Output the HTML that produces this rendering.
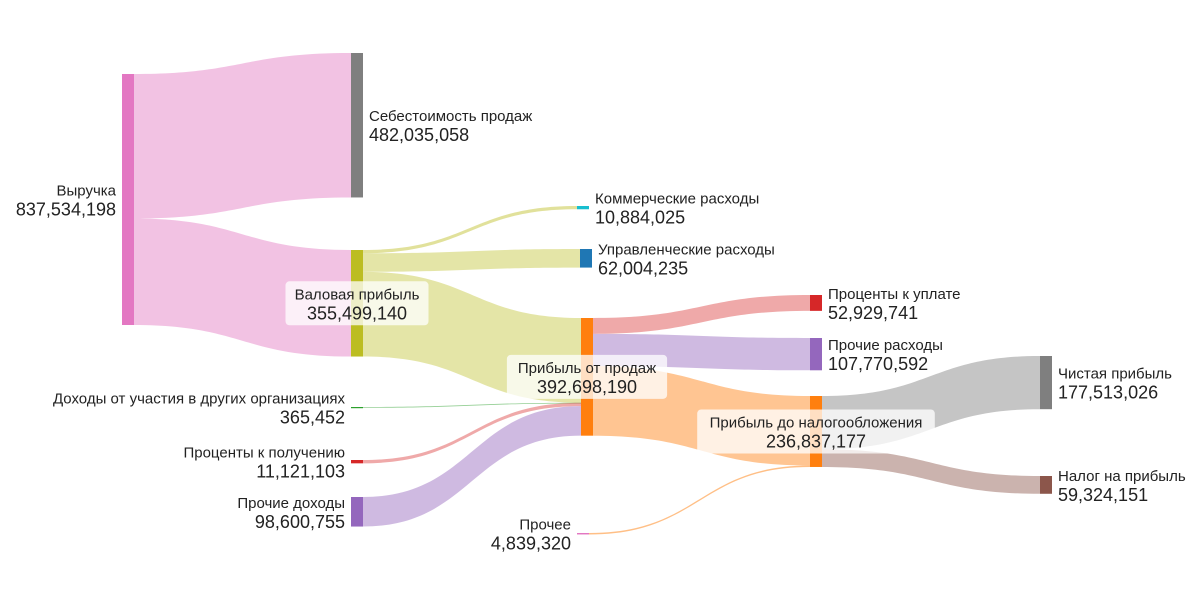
<!DOCTYPE html>
<html><head><meta charset="utf-8"><style>
html,body{margin:0;padding:0;background:#fff}
svg{display:block}
text{font-family:"Liberation Sans",Arial,sans-serif;fill:#222}
</style></head><body>
<svg id="chart" width="1200" height="600" xmlns="http://www.w3.org/2000/svg">
<g id="links"></g>
<g id="nodes"></g>
<g id="labels"></g>
</svg>
<script>
const nodeNames = ["Выручка","Себестоимость продаж","Валовая прибыль","Коммерческие расходы","Управленческие расходы","Доходы от участия в других организациях","Проценты к получению","Прочие доходы","Прибыль от продаж","Прочее","Проценты к уплате","Прочие расходы","Прибыль до налогообложения","Чистая прибыль","Налог на прибыль"];
const nodeValues = [837534198,482035058,355499140,10884025,62004235,365452,11121103,98600755,392698190,4839320,52929741,107770592,236837177,177513026,59324151];
const linkSource = [0,0,2,2,2,5,6,7,8,8,8,9,12,12];
const linkTarget = [1,2,3,4,8,8,8,8,10,11,12,12,13,14];
const linkValue = [482035058,355499140,10884025,62004235,282610880,365452,11121103,98600755,52929741,107770592,232000000,4839320,177513026,59324151];

// layout (not data)
const nodeX = [122,351,351,577,580,351,351,351,581,577,810,810,810,1040,1040];
const nodeY = [74,53,250,206,249,407,460,497,318,533,295,338,396,356,476];
const nodeColor = ["#e377c2","#7f7f7f","#bcbd22","#17becf","#1f77b4","#2ca02c","#d62728","#9467bd","#ff7f0e","#e377c2","#d62728","#9467bd","#ff7f0e","#7f7f7f","#8c564b"];
const linkColor = ["rgba(227,119,194,0.45)","rgba(227,119,194,0.45)","rgba(188,189,34,0.45)","rgba(188,189,34,0.4)","rgba(188,189,34,0.4)","rgba(44,160,44,0.5)","rgba(214,39,40,0.4)","rgba(148,103,189,0.45)","rgba(214,39,40,0.4)","rgba(148,103,189,0.45)","rgba(255,127,14,0.45)","rgba(255,127,14,0.5)","rgba(127,127,127,0.45)","rgba(140,86,75,0.45)"];
const labelSide = ["left","right","center","right","right","left","left","left","center","left","right","right","center","right","right"];
const NW = 12;
const scale = v => v * 251 / 837534198;
const NS = "http://www.w3.org/2000/svg";
const fmt = v => v.toLocaleString("en-US");

const outOff = nodeNames.map(()=>0), inOff = nodeNames.map(()=>0);
const gL = document.getElementById("links");
linkValue.forEach((v,i)=>{
  const s=linkSource[i], t=linkTarget[i], h=Math.max(scale(v),0.8);
  const x0=nodeX[s]+NW, x1=nodeX[t];
  const y0=nodeY[s]+outOff[s], y1=nodeY[t]+inOff[t];
  outOff[s]+=scale(v); inOff[t]+=scale(v);
  const xm=(x0+x1)/2;
  const p=document.createElementNS(NS,"path");
  p.setAttribute("d",`M${x0},${y0}C${xm},${y0} ${xm},${y1} ${x1},${y1}L${x1},${y1+h}C${xm},${y1+h} ${xm},${y0+h} ${x0},${y0+h}Z`);
  p.setAttribute("fill",linkColor[i]);
  
  
  gL.appendChild(p);
});
const gN=document.getElementById("nodes"), gT=document.getElementById("labels");
nodeValues.forEach((v,i)=>{
  const h=Math.max(scale(v),1.2);
  const r=document.createElementNS(NS,"rect");
  r.setAttribute("x",nodeX[i]); r.setAttribute("y",nodeY[i]);
  r.setAttribute("width",NW); r.setAttribute("height",h);
  r.setAttribute("fill",nodeColor[i]);
  
  
  gN.appendChild(r);
  const cy=nodeY[i]+h/2;
  let x, anchor;
  if(labelSide[i]==="right"){x=nodeX[i]+NW+6;anchor="start";}
  else if(labelSide[i]==="left"){x=nodeX[i]-6;anchor="end";}
  else {x=nodeX[i]+NW/2;anchor="middle";
    const w=Math.max(nodeNames[i].length*8.6,118)+14;
    const b=document.createElementNS(NS,"rect");
    b.setAttribute("x",x-w/2);b.setAttribute("y",cy-22);b.setAttribute("width",w);b.setAttribute("height",44);
    b.setAttribute("rx",4);b.setAttribute("fill","rgba(255,255,255,0.75)");
    
    
    gT.appendChild(b);
  }
  const t1=document.createElementNS(NS,"text");
  t1.setAttribute("x",x);t1.setAttribute("y",cy-4);t1.setAttribute("text-anchor",anchor);t1.setAttribute("font-size","15");
  t1.textContent=nodeNames[i];
  
  
  gT.appendChild(t1);
  const t2=document.createElementNS(NS,"text");
  t2.setAttribute("x",x);t2.setAttribute("y",cy+16);t2.setAttribute("text-anchor",anchor);t2.setAttribute("font-size","18");
  t2.textContent=fmt(v);
  
  
  gT.appendChild(t2);
});
</script>
</body></html>
